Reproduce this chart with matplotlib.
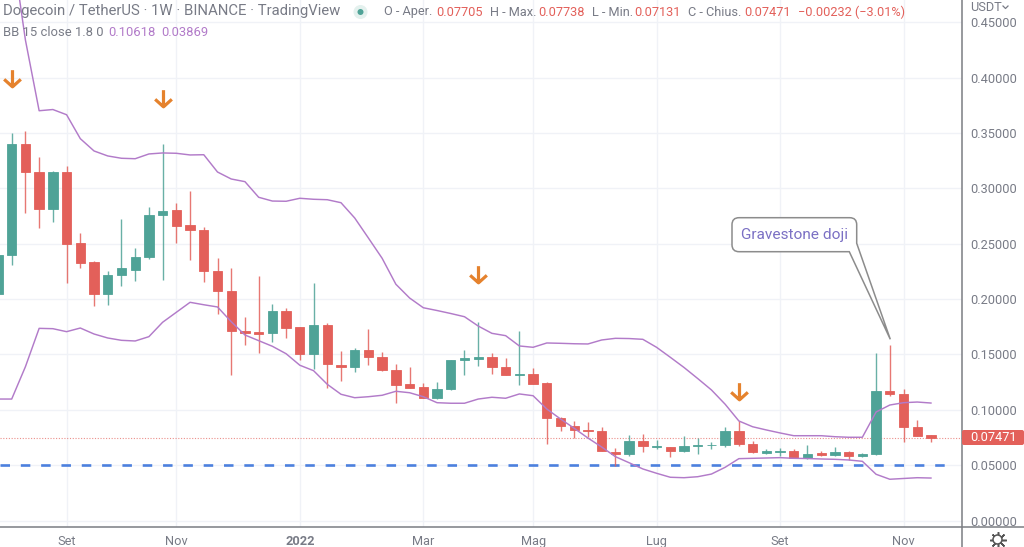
import numpy as np
import matplotlib
matplotlib.use('Agg')
import matplotlib.pyplot as plt
from matplotlib.path import Path
from matplotlib.patches import PathPatch, Circle

plt.rcParams['font.family'] = ['Roboto', 'DejaVu Sans']

# weekly candles, first one is only half visible at the left edge
weeks = list(range(-1, 68))
opens = [.2046, .2398, .3400, .3147, .2813, .3147, .2506, .2335, .2046, .2217, .2263, .2380, .2759, .2800, .2669, .2628,
         .2254, .2069, .1708, .1699, .1694, .1895, .1744, .1505, .1766, .1405, .1387, .1538, .1477, .1363, .1231, .1204,
         .1107, .1189, .1448, .1462, .1480, .1387, .1317, .1324, .1240, .0927, .0855, .0819, .0810, .0623, .0602, .0722,
         .0665, .0665, .0629, .0672, .0679, .0686, .0810, .0692, .0611, .0622, .0626, .0569, .0608, .0593, .0620, .0587,
         .0602, .1170, .1143, .0848, .07705]
highs = [.2460, .3499, .3517, .3282, .3156, .3201, .2597, .2345, .2254, .2723, .2461, .2831, .3400, .2867, .2976, .2651,
         .2371, .2281, .1838, .2208, .1956, .1924, .1748, .2145, .1784, .1532, .1559, .1730, .1523, .1414, .1390, .1240,
         .1252, .1450, .1538, .1793, .1511, .1466, .1712, .1375, .1249, .0936, .0900, .0894, .0843, .0659, .0773, .0782,
         .0728, .0668, .0764, .0746, .0713, .0846, .0900, .0717, .0644, .0656, .0647, .0681, .0626, .0665, .0629, .0611,
         .1514, .1588, .1191, .0909, .07738]
lows = [.1950, .2308, .2777, .2642, .2696, .2145, .2281, .1938, .1947, .2118, .2163, .2362, .2172, .2506, .2353, .2154,
        .1866, .1315, .1590, .1514, .1613, .1653, .1450, .1369, .1202, .1261, .1345, .1405, .1351, .1065, .1197, .1107,
        .1098, .1180, .1318, .1399, .1327, .1315, .1225, .1233, .0690, .0810, .0749, .0755, .0629, .0496, .0581, .0623,
        .0647, .0578, .0623, .0605, .0650, .0668, .0671, .0614, .0599, .0584, .0565, .0557, .0585, .0587, .0548, .0575,
        .0593, .1123, .0708, .0763, .07131]
closes = [.2398, .3400, .3147, .2813, .3147, .2497, .2326, .2046, .2217, .2285, .2380, .2755, .2795, .2664, .2624, .2254,
          .2073, .1712, .1694, .1685, .1895, .1742, .1505, .1766, .1414, .1387, .1538, .1477, .1363, .1225, .1200, .1107,
          .1191, .1450, .1468, .1477, .1387, .1315, .1324, .1236, .0927, .0855, .0821, .0810, .0632, .0602, .0722, .0671,
          .0671, .0629, .0674, .0680, .0686, .0810, .0690, .0617, .0626, .0629, .0569, .0605, .0593, .0620, .0587, .0602,
          .1173, .1143, .0848, .0767, .07471]

# bollinger bands, upper from the first full week, lower from the cut candle
upper_band = [.5196, .4338, .3700, .3711, .3664, .3448, .3337, .3292, .3271, .3267, .3310, .3319, .3316, .3301, .3303,
              .3147, .3084, .3060, .2919, .2885, .2883, .2910, .2901, .2897, .2870, .2732, .2551, .2368, .2134, .2010,
              .1922, .1897, .1870, .1841, .1757, .1691, .1670, .1577, .1565, .1604, .1601, .1597, .1595, .1631, .1646,
              .1644, .1637, .1565, .1475, .1383, .1283, .1180, .1051, .0900, .0848, .0819, .0792, .0767, .0767, .0767,
              .0758, .0753, .0753, .0981, .1044, .1065, .1071, .1062]
lower_band = [.1098, .1098, .1390, .1736, .1733, .1706, .1739, .1685, .1649, .1628, .1622, .1661, .1791, .1881, .1971, .1949,
              .1929, .1796, .1676, .1625, .1574, .1507, .1403, .1354, .1231, .1141, .1110, .1119, .1132, .1168, .1155,
              .1119, .1065, .1060, .1060, .1098, .1114, .1105, .1144, .1128, .1008, .0918, .0834, .0746, .0665, .0578,
              .0523, .0467, .0428, .0392, .0388, .0397, .0421, .0482, .0560, .0563, .0566, .0569, .0563, .0561, .0557,
              .0554, .0548, .0536, .0419, .0374, .0381, .0388, .0385]

month_weeks = [4, 12, 21, 30, 38, 47, 56, 65]
month_labels = ['Set', 'Nov', '2022', 'Mar', 'Mag', 'Lug', 'Set', 'Nov']
price_ticks = [0.0, 0.05, 0.10, 0.15, 0.20, 0.25, 0.30, 0.35, 0.40, 0.45]

arrow_weeks = [0, 11, 34, 53]
arrow_prices = [0.4000, 0.3815, 0.2230, 0.1175]

support_level = 0.05
last_price = 0.07471

RED = '#E3605A'
GREEN = '#4FA397'
PURPLE = '#B27BC9'
GREY_TEXT = '#787B86'
GRID = '#F0F2F7'
AXIS = '#7B7D83'

W, H = 1024, 547
fig = plt.figure(figsize=(W / 100, H / 100), dpi=100)
ax = fig.add_axes([0, 1 - 527 / H, 961.7 / W, 527 / H])
ax.set_xlim(-0.853, 69.24)
ax.set_ylim(-0.00569, 0.46995)

for s in ax.spines.values():
    s.set_visible(False)
ax.set_axisbelow(True)
ax.grid(color=GRID, lw=1)
ax.set_xticks(month_weeks)
ax.set_xticklabels(month_labels, color=GREY_TEXT, fontsize=9.2)
ax.get_xticklabels()[2].set_fontweight('bold')
ax.set_yticks(price_ticks)
ax.set_yticklabels(['%.5f' % p for p in price_ticks], color=GREY_TEXT, fontsize=9.2)
ax.yaxis.tick_right()
ax.tick_params(axis='x', length=0, pad=6)
ax.tick_params(axis='y', length=0, pad=6.5)

# levels
ax.axhline(last_price, color=RED, lw=0.8, ls=(0, (1, 1.5)), alpha=0.7, zorder=1)
ax.plot([-0.853, 68.5], [support_level, support_level], color='#4C80DE', lw=1.9, ls=(0, (3.6, 4.1)), zorder=1.5)

# candles
o = np.array(opens)
c = np.array(closes)
colors = [GREEN if cl >= op else RED for op, cl in zip(opens, closes)]
ax.vlines(weeks, lows, highs, colors=colors, lw=1.0, alpha=0.85, zorder=2)
ax.bar(weeks, np.abs(c - o), bottom=np.minimum(o, c), width=0.68, color=colors, edgecolor=colors, lw=0.6, zorder=3)

# bands
ax.plot(weeks[1:], upper_band, color=PURPLE, lw=1.05, zorder=4)
ax.plot(weeks, lower_band, color=PURPLE, lw=1.05, zorder=4)

# orange arrows
arrow = Path([(0, 1), (0, -1), (-1, -0.1), (0, -1), (1, -0.1)],
             [Path.MOVETO, Path.LINETO, Path.MOVETO, Path.LINETO, Path.LINETO])
ax.plot(arrow_weeks, arrow_prices, ls='none', marker=arrow, ms=12, mfc='none', mec='#E5822D', mew=2.3, zorder=5)

# overlay in pixels for the interface parts around the chart
ui = fig.add_axes([0, 0, 1, 1], facecolor='none')
ui.set_xlim(0, W)
ui.set_ylim(H, 0)
ui.axis('off')

ui.plot([0, W], [527, 527], color=AXIS, lw=1.1)
ui.plot([961.7, 961.7], [0, H], color=AXIS, lw=1.1)

# callout with the tail going down to the candle
x0, x1, y0, y1, r = 732, 856.7, 217.7, 251.7, 7
callout = Path(
    [(x0 + r, y0), (x1 - r, y0), (x1, y0), (x1, y0 + r), (x1, 243.3), (890.3, 339.3), (849.3, y1), (x0 + r, y1),
     (x0, y1), (x0, y1 - r), (x0, y0 + r), (x0, y0), (x0 + r, y0), (x0 + r, y0)],
    [Path.MOVETO, Path.LINETO, Path.CURVE3, Path.CURVE3, Path.LINETO, Path.LINETO, Path.LINETO, Path.LINETO,
     Path.CURVE3, Path.CURVE3, Path.LINETO, Path.CURVE3, Path.CURVE3, Path.CLOSEPOLY])
ui.add_patch(PathPatch(callout, fc='white', ec='#8C8C8C', lw=1.1, zorder=6))
ui.text(794.5, 235, 'Gravestone doji', color='#7B70C4', fontsize=11.1, ha='center', va='center', zorder=7)

# price tag
tag = Path([(964, 430), (1022, 430), (1024, 430), (1024, 432), (1024, 443), (1024, 445), (1022, 445), (964, 445),
            (962, 445), (962, 443), (962, 432), (962, 430), (964, 430), (964, 430)],
           [Path.MOVETO, Path.LINETO, Path.CURVE3, Path.CURVE3, Path.LINETO, Path.CURVE3, Path.CURVE3, Path.LINETO,
            Path.CURVE3, Path.CURVE3, Path.LINETO, Path.CURVE3, Path.CURVE3, Path.CLOSEPOLY])
ui.add_patch(PathPatch(tag, fc=RED, ec='none', zorder=6))
ui.text(993.5, 437.8, '%.5f' % last_price, color='white', fontsize=9.2, ha='center', va='center', zorder=7)

# header lines
ui.text(3, 10.5, 'Dogecoin / TetherUS · 1W · BINANCE · TradingView', color=GREY_TEXT, fontsize=10.7, va='center')
ui.add_patch(Circle((360.5, 12), 7, fc='#E4F1EE', ec='none'))
ui.add_patch(Circle((360.5, 12), 3, fc='#4FA397', ec='none'))
header = [(384.5, 'O - Aper.', GREY_TEXT), (436, '0.07705', RED), (490, 'H - Max.', GREY_TEXT), (538, '0.07738', RED),
          (591.5, 'L - Min.', GREY_TEXT), (634.5, '0.07131', RED), (688.5, 'C - Chius.', GREY_TEXT),
          (744, '0.07471', RED), (798, '−0.00232 (−3.01%)', RED)]
for hx, label, col in header:
    ui.text(hx, 12, label, color=col, fontsize=9.15, va='center')

ui.text(3, 32, 'BB 15 close 1.8 0', color=GREY_TEXT, fontsize=9.4, va='center')
ui.text(108, 32, '0.10618', color=PURPLE, fontsize=9.4, va='center')
ui.text(161.5, 32, '0.03869', color=PURPLE, fontsize=9.4, va='center')

ui.text(970, 7.5, 'USDT', color=GREY_TEXT, fontsize=9.2, va='center')
ui.plot([1003, 1005.5, 1008], [6, 8.5, 6], color=GREY_TEXT, lw=0.9)

# settings gear
ui.plot([997.5], [539.5], marker=(8, 2, 0), ms=12, mec='#555555', mew=1.1, ls='none')
ui.add_patch(Circle((997.5, 539.5), 4.5, fc='white', ec='#555555', lw=1.1, zorder=5))

fig.savefig('out.png', dpi=100)
